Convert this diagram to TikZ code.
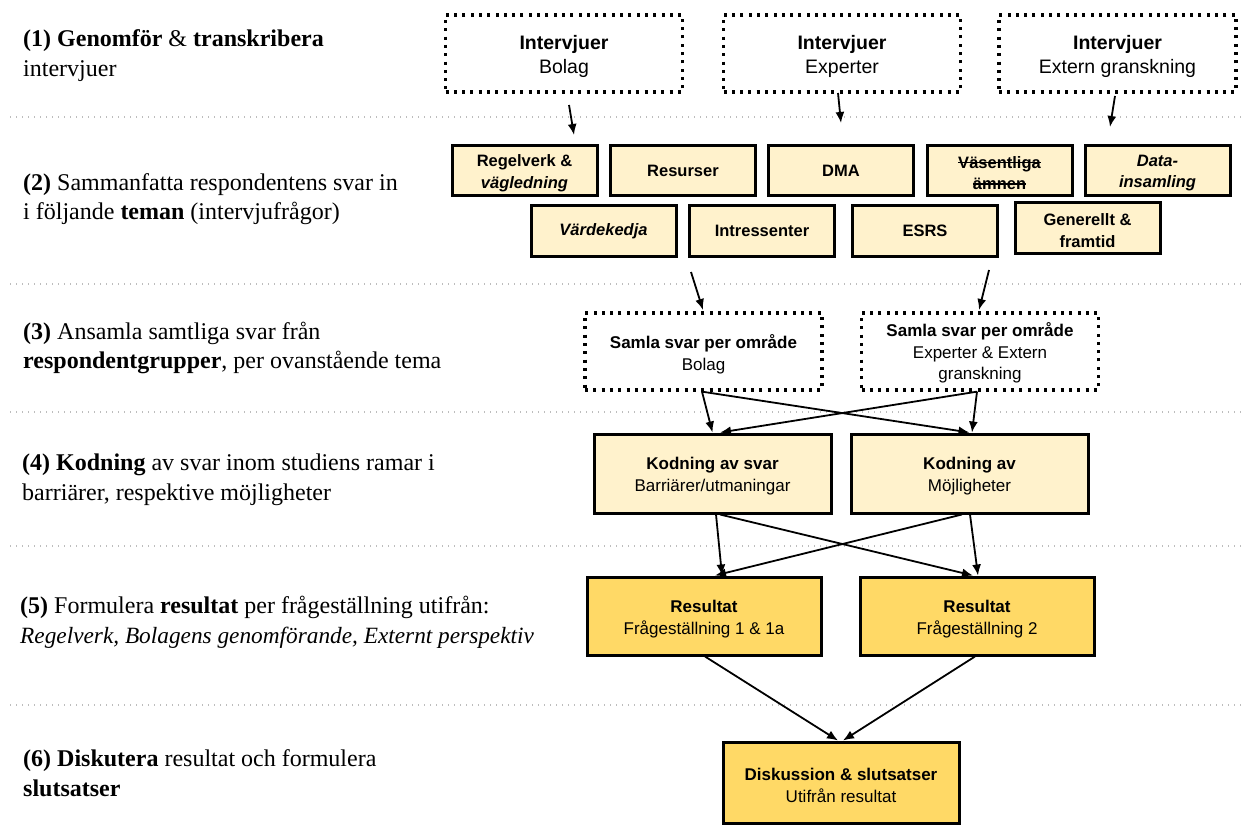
\documentclass[tikz,border=0pt]{standalone}
\usepackage{fontspec}
\setmainfont{Liberation Serif}
\newfontfamily\boxfont{Liberation Sans}
\usetikzlibrary{arrows.meta,calc}
\definecolor{lightyel}{HTML}{FFF2CC}
\definecolor{darkyel}{HTML}{FFD966}
\definecolor{sepgray}{HTML}{BDBDBD}
\newsavebox\mystrkbox
\newcommand{\mystrk}[1]{\sbox\mystrkbox{#1}\rlap{\rule[0.3em]{\wd\mystrkbox}{1.3pt}}\usebox\mystrkbox}
\begin{document}
\begin{tikzpicture}[x=1pt,y=-1pt,
  base/.style={rectangle, draw=black, line width=3pt, align=center, inner sep=2pt,
    font=\boxfont\fontsize{17}{22}\selectfont},
  dotbox/.style={base, line width=3.3pt, dash pattern=on 3pt off 5.3pt, minimum width=237pt, minimum height=77pt},
  theme/.style={base, fill=lightyel, minimum width=145pt, minimum height=50pt,
    font=\boxfont\bfseries\fontsize{16.5}{21}\selectfont},
  kod/.style={base, fill=lightyel, minimum width=237pt, minimum height=79pt},
  resbox/.style={base, fill=darkyel, minimum width=234pt, minimum height=78pt},
  boxtxt/.style={align=center, inner sep=0pt, yshift=-3pt, font=\boxfont\fontsize{17}{22}\selectfont},
  toptxt/.style={boxtxt, font=\boxfont\fontsize{19.5}{24}\selectfont},
  themetxt/.style={boxtxt, yshift=0.5pt, font=\boxfont\bfseries\fontsize{16.5}{21.5}\selectfont},
  tl/.style={label={[boxtxt]center:{#1}}},
  tltop/.style={label={[toptxt]center:{#1}}},
  tlth/.style={label={[themetxt]center:{#1}}},
  arr/.style={-{Latex[length=11pt,width=9pt]}, line width=1.8pt},
  sepline/.style={sepgray, line width=1.3pt, dash pattern=on 1.3pt off 4.7pt},
  lefttxt/.style={anchor=west, align=left, inner sep=0pt, font=\fontsize{24}{29.5}\selectfont}]
\useasboundingbox (0,0) rectangle (1242,837);
\fill[white] (0,0) rectangle (1242,837);

% separators
\foreach \yy in {117,284,412,546,705}
  \draw[sepline] (10,\yy) -- (1242,\yy);

% left texts
\node[lefttxt] (l1) at (23,55.5) {\textbf{(1) Genomför} \& \textbf{transkribera}\\intervjuer};
\node[lefttxt] (l2) at (23,199) {\textbf{(2)} Sammanfatta respondentens svar in\\i följande \textbf{teman} (intervjufrågor)};
\node[lefttxt] (l3) at (23,348) {\textbf{(3)} Ansamla samtliga svar från\\\textbf{respondentgrupper}, per ovanstående tema};
\node[lefttxt] (l4) at (22,480) {\textbf{(4) Kodning} av svar inom studiens ramar i\\barriärer, respektive möjligheter};
\node[lefttxt] (l5) at (20,622.5) {\textbf{(5)} Formulera \textbf{resultat} per frågeställning utifrån:\\{\fontsize{23.3}{29.5}\selectfont\textit{Regelverk, Bolagens genomförande, Externt perspektiv}}};
\node[lefttxt] (l6) at (23,773) {\textbf{(6) Diskutera} resultat och formulera\\\textbf{slutsatser}};

% stage 1
\node[dotbox, tltop={\textbf{Intervjuer}\\Bolag}] (int1) at (564,53.5) {};
\node[dotbox, tltop={\textbf{Intervjuer}\\Experter}] (int2) at (842,53.5) {};
\node[dotbox, tltop={\textbf{Intervjuer}\\Extern granskning}] (int3) at (1117.5,53.5) {};

% stage 2
\node[theme, tlth={Regelverk \&\\\textit{vägledning}}] (reg) at (524.5,170.5) {};
\node[theme] (resu) at (683,171) {Resurser};
\node[theme] (dma) at (841,171) {DMA};
\node[theme, tlth={\mystrk{Väsentliga}\\\mystrk{ämnen}}] (vas) at (999.5,170.5) {};
\node[theme, tlth={\textit{Data-}\\\textit{insamling}}] (data) at (1157.5,170.5) {};
\node[theme] (vard) at (603.5,231) {\textit{Värdekedja}};
\node[theme] (intr) at (762,231) {Intressenter};
\node[theme] (esrs) at (925,231) {ESRS};
\node[theme, tlth={Generellt \&\\framtid}] (gen) at (1087.5,228) {};

% stage 3
\node[dotbox, tl={\textbf{Samla svar per område}\\Bolag}] (sA) at (703.5,351.5) {};
\node[dotbox, label={[boxtxt, yshift=1.5pt, font=\boxfont\fontsize{17}{21.5}\selectfont]center:{\textbf{Samla svar per område}\\Experter \& Extern\\granskning}}] (sB) at (980,351.5) {};

% stage 4
\node[kod, tl={\textbf{Kodning av svar}\\Barriärer/utmaningar}] (k1) at (712.5,473.5) {};
\node[kod, tl={\textbf{Kodning av}\\Möjligheter}] (k2) at (969.5,473.5) {};

% stage 5
\node[resbox, tl={\textbf{Resultat}\\Frågeställning 1 \& 1a}] (r1) at (704,616) {};
\node[resbox, tl={\textbf{Resultat}\\Frågeställning 2}] (r2) at (977,616) {};

% stage 6
\node[resbox, minimum width=236pt, minimum height=81pt, tl={\textbf{Diskussion \& slutsatser}\\Utifrån resultat}] (disk) at (841,782.5) {};

% free arrows
\coordinate (a1s) at (569,105);
\coordinate (a1e) at (574,135);
\coordinate (a2s) at (838,93);
\coordinate (a2e) at (841,123);
\coordinate (a3s) at (1115,96);
\coordinate (a3e) at (1110,127);
\coordinate (b1s) at (691,272);
\coordinate (b1e) at (703,310);
\coordinate (b2s) at (989,270);
\coordinate (b2e) at (979,310);
\draw[arr] (a1s) -- (a1e);
\draw[arr] (a2s) -- (a2e);
\draw[arr] (a3s) -- (a3e);
\draw[arr] (b1s) -- (b1e);
\draw[arr] (b2s) -- (b2e);

% stage 3 -> 4
\draw[arr] ([xshift=-1.5pt]sA.south) -- (k1.north);
\draw[arr] ([xshift=-1.5pt]sA.south) -- (k2.north);
\draw[arr] ([xshift=-3pt]sB.south) -- ([xshift=2.5pt]k2.north);
\draw[arr] ([xshift=-3pt]sB.south) -- ([xshift=7.5pt]k1.north);

% stage 4 -> 5
\draw[arr] ([xshift=3.5pt]k1.south) -- ([xshift=18pt]r1.north);
\draw[arr] ([xshift=7.5pt]k1.south) -- ([xshift=-4pt]r2.north);
\draw[arr] ([xshift=-7.5pt]k2.south) -- ([xshift=11pt]r1.north);
\draw[arr] ([xshift=0.5pt]k2.south) -- ([xshift=1pt]r2.north);

% stage 5 -> 6
\draw[arr] ([xshift=1pt]r1.south) -- ([xshift=-3pt]disk.north);
\draw[arr] ([xshift=-2pt]r2.south) -- ([xshift=2pt]disk.north);
\end{tikzpicture}
\end{document}
